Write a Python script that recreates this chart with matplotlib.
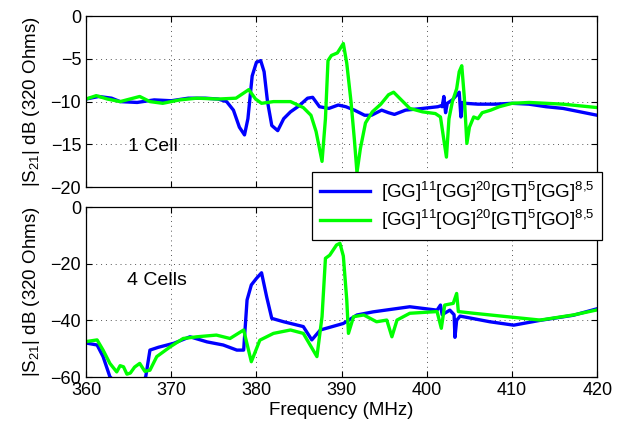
import matplotlib
matplotlib.use("Agg")
import matplotlib.pyplot as plt
import numpy as np

plt.rcParams['font.family'] = ['Liberation Sans', 'DejaVu Sans']
plt.rcParams['mathtext.fontset'] = 'custom'
plt.rcParams['mathtext.rm'] = 'Liberation Sans'
plt.rcParams['mathtext.it'] = 'Liberation Sans'

# ── Data: 1 cell (top panel) ────────────────────────────────────────────────
f_1cell_gg = [360, 361.5, 363, 364, 366, 368, 370, 372, 374, 375.5, 376.5,
              377.3, 378.0, 378.6, 379.0, 379.5, 380.0, 380.5, 380.9, 381.3,
              381.8, 382.5, 383.2, 384.0, 385.0, 386.0, 386.6, 387.4, 388.5,
              389.6, 390.5, 391.5, 392.7, 393.5, 394.7, 395.5, 396.2, 397.5,
              399.5, 401.3, 401.6, 401.8, 402.0, 402.2, 402.4, 403.0, 403.8,
              404.0, 404.2, 404.5, 406, 408, 410, 412, 414, 416, 418, 420]
s21_1cell_gg = [-9.7, -9.4, -9.6, -10.0, -10.1, -9.8, -9.9, -9.6, -9.6, -9.7,
                -10.0, -11.0, -13.0, -13.9, -12.0, -7.0, -5.4, -5.2, -6.5,
                -10.0, -12.8, -13.4, -12.0, -11.2, -10.5, -9.6, -9.5, -10.6,
                -10.8, -10.4, -10.6, -11.0, -11.6, -11.6, -11.0, -11.3, -11.5,
                -11.0, -10.8, -10.6, -10.5, -10.6, -9.4, -11.3, -10.2, -9.8,
                -8.9, -11.8, -10.1, -10.2, -10.3, -10.3, -10.2, -10.3, -10.6,
                -10.8, -11.2, -11.6]

f_1cell_go = [360, 361.2, 362.5, 364, 366.3, 367.5, 369, 371, 373, 375.5,
              377.6, 378.5, 379.1, 379.9, 380.6, 382, 384, 385.5, 386.4,
              387.0, 387.7, 388.1, 388.4, 388.8, 389.5, 390.2, 390.6, 391.1,
              391.5, 391.8, 392.2, 392.8, 393.6, 394.6, 395.5, 396.1, 397.0,
              398.0, 399.5, 401.0, 401.6, 402.0, 402.3, 402.6, 403.0, 403.5,
              403.8, 404.1, 404.4, 404.7, 405.0, 405.5, 406.0, 406.5, 407.5,
              408.5, 410, 412, 414, 416, 418, 420]
s21_1cell_go = [-9.7, -9.3, -9.7, -10.0, -9.4, -10.0, -10.2, -9.8, -9.6, -9.7,
                -9.6, -9.0, -8.6, -9.7, -10.2, -10.0, -10.0, -10.7, -11.6,
                -13.5, -17.0, -12.0, -5.2, -4.6, -4.3, -3.2, -5.5, -10.0,
                -14.5, -18.3, -15.5, -12.5, -11.2, -10.3, -9.2, -8.9, -9.8,
                -10.8, -11.2, -11.4, -11.8, -14.5, -16.5, -12.0, -10.0, -8.5,
                -6.5, -5.8, -9.5, -14.9, -13.0, -11.8, -12.0, -11.3, -11.0,
                -10.6, -10.2, -10.1, -10.2, -10.3, -10.5, -10.7]

# ── Data: 4 cells (bottom panel) ────────────────────────────────────────────
f_4cell_gg = [360, 361.3, 362, 362.8, 363.5, 365, 366.5, 367.0, 367.5, 368.5,
              370.3, 372.2, 374.2, 376.1, 377.7, 378.5, 378.9, 379.4, 380.0,
              380.6, 381.2, 381.8, 383.2, 385.5, 386.5, 387.5, 390.2, 391.8,
              393.7, 398.0, 401.2, 401.6, 401.8, 402.7, 403.2, 403.3, 403.5,
              403.9, 407.4, 410.2, 413.3, 417.2, 420]
s21_4cell_gg = [-48.0, -48.7, -52.8, -59.9, -62, -62, -62, -60, -50.5, -49.5,
                -48.1, -45.8, -47.6, -48.7, -50.5, -50.5, -32.8, -27.5, -25.2,
                -23.2, -31.7, -39.3, -40.5, -42.2, -46.9, -43.4, -41.1, -38.1,
                -37.0, -35.2, -36.4, -34.6, -38.0, -36.4, -38.0, -46.0, -40.0,
                -38.5, -40.5, -41.7, -40.0, -38.2, -35.9]

f_4cell_go = [360, 361.3, 362, 362.8, 363.6, 364.0, 364.4, 364.8, 365.2,
              365.7, 366.3, 366.9, 367.5, 368.3, 369.9, 371.4, 373, 375.3,
              376.9, 378.5, 379.4, 380.4, 382, 384, 385.5, 387.1, 387.7,
              388.1, 388.6, 389.4, 389.8, 390.2, 390.6, 390.8, 391.4, 392.6,
              394.1, 395.3, 395.9, 396.5, 398, 401.2, 401.7, 402.1, 403.1,
              403.5, 403.7, 405.5, 409.4, 413.3, 417.2, 420]
s21_4cell_go = [-47.5, -46.9, -50.5, -55.2, -58.2, -56.0, -56.4, -59.0, -58.6,
                -56.5, -55.2, -58.0, -57.6, -52.8, -49.3, -46.4, -45.8, -45.2,
                -46.4, -43.4, -54.6, -47.0, -44.6, -43.4, -44.6, -52.8, -38.7,
                -18.1, -17.0, -13.4, -12.8, -17.3, -32.7, -44.6, -38.7, -38.1,
                -40.5, -39.9, -45.8, -39.9, -37.5, -36.9, -42.8, -34.6, -34.0,
                -30.5, -36.9, -37.5, -38.7, -39.9, -38.1, -36.3]

legend_labels = [r'[GG]$^{11}$[GG]$^{20}$[GT]$^{5}$[GG]$^{8{,}5}$',
                 r'[GG]$^{11}$[OG]$^{20}$[GT]$^{5}$[GO]$^{8{,}5}$']
x_ticks = [360, 370, 380, 390, 400, 410, 420]
top_yticks = [0, -5, -10, -15, -20]
bot_yticks = [0, -20, -40, -60]

blue = '#0000ff'
green = '#00ff00'
lw = 2.4

fig = plt.figure(figsize=(6.28, 4.26), dpi=100)
ax1 = fig.add_axes([0.137, 0.561, 0.814, 0.401])
ax2 = fig.add_axes([0.137, 0.115, 0.814, 0.399])


def style(ax):
    ax.set_xlim(360, 420)
    ax.set_xticks(x_ticks)
    ax.grid(True, linestyle=(0, (1, 4)), color='#555555', linewidth=0.7)
    ax.tick_params(direction='in', top=True, right=True, length=4,
                   labelsize=13, width=0.8)
    for sp in ax.spines.values():
        sp.set_linewidth(0.9)
    ax.set_ylabel(r'|S$_{21}$| dB (320 Ohms)', fontsize=13.5, labelpad=6)


# ── Panel 1 ────────────────────────────────────────────────────────────────
l1, = ax1.plot(f_1cell_gg, s21_1cell_gg, color=blue, linewidth=lw)
l2, = ax1.plot(f_1cell_go, s21_1cell_go, color=green, linewidth=lw)
style(ax1)
ax1.set_ylim(-20, 0)
ax1.set_yticks(top_yticks)
ax1.set_xticklabels([])
ax1.text(364.9, -15.3, '1 Cell', fontsize=14, va='center')

# ── Panel 2 ────────────────────────────────────────────────────────────────
ax2.plot(f_4cell_gg, s21_4cell_gg, color=blue, linewidth=lw)
ax2.plot(f_4cell_go, s21_4cell_go, color=green, linewidth=lw)
style(ax2)
ax2.set_ylim(-60, 0)
ax2.set_yticks(bot_yticks)
ax2.text(364.8, -25.8, '4 Cells', fontsize=14, va='center')
ax2.set_xlabel('Frequency (MHz)', fontsize=13.5, labelpad=2)

fig.align_ylabels([ax1, ax2])

leg = fig.legend([l1, l2], legend_labels, loc='upper left',
                 bbox_to_anchor=(312 / 628, 1 - 172 / 426), fontsize=13.5,
                 handlelength=2.7, fancybox=False, framealpha=1,
                 edgecolor='black', borderpad=0.4, labelspacing=0.25,
                 handletextpad=0.6, borderaxespad=0)
leg.get_frame().set_linewidth(0.9)

fig.savefig('out.png', dpi=100)
